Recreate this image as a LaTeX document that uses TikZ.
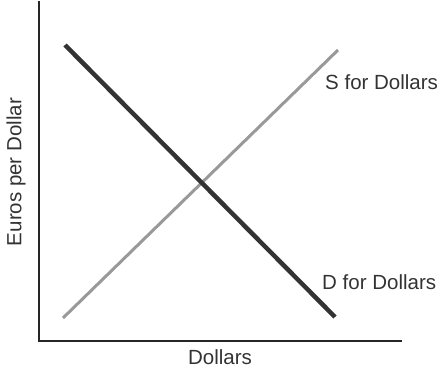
\documentclass[tikz,border=0pt]{standalone}
\usepackage{fontspec}
\setmainfont{Liberation Sans}
\begin{document}
\begin{tikzpicture}[x=1pt, y=-1pt,
    axis/.style={line width=2.2pt, draw=black!85},
    supply/.style={line width=3pt, draw=black!40},
    demand/.style={line width=4.5pt, draw=black!80},
    lbl/.style={font=\fontsize{20.5}{24}\selectfont, text=black!80, inner sep=0pt}]
    \useasboundingbox (0,0) rectangle (440,369);

    % 坐标轴
    \coordinate (top) at (39,1);
    \coordinate (origin) at (39,341);
    \coordinate (right) at (402,341);
    \draw[axis] (top) -- (origin) -- (right);

    % 标签
    \node[lbl] (xlabel) at (220,357) {Dollars};
    \node[lbl, rotate=90] (ylabel) at (16,172) {Euros per Dollar};

    % 曲线
    \coordinate (s0) at (63,318);
    \coordinate (s1) at (338,50);
    \coordinate (d0) at (65,45);
    \coordinate (d1) at (335,317);
    \draw[supply] (s0) -- (s1);
    \draw[demand] (d0) -- (d1);

    \node[lbl, anchor=west] (slabel) at (325,82) {S for Dollars};
    \node[lbl, anchor=west] (dlabel) at (322,282) {D for Dollars};
\end{tikzpicture}
\end{document}
